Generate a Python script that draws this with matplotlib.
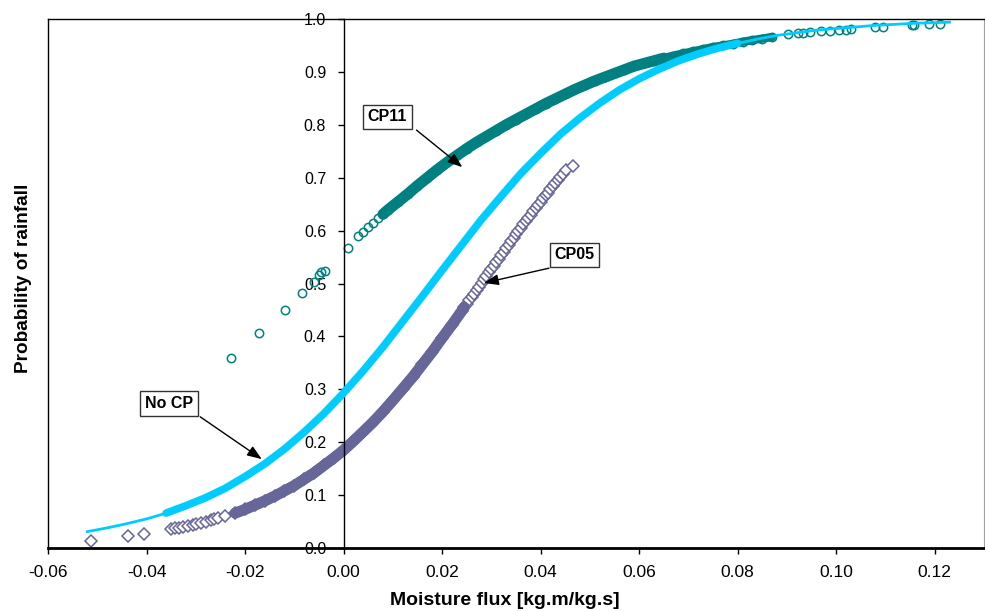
"""Probability of rainfall against moisture flux: CP11, CP05 and the no-CP case.

Each series is a scatter of fitted probabilities; where the points sit very
close together they are backed by a thick line of the same colour so the
band reads as solid, like the original spreadsheet chart.
"""
import matplotlib

matplotlib.use("Agg")
import matplotlib.pyplot as plt  # noqa: E402
import numpy as np  # noqa: E402

plt.rcParams["font.family"] = ["Liberation Sans", "DejaVu Sans"]

TEAL = "#008080"
CYAN = "#00CCFF"
PURPLE = "#666699"

# --- data ------------------------------------------------------------------ #
# CP11 (open circles)
cp11_x = [-0.0229, -0.0172, -0.0119, -0.0085, -0.0061, -0.0049, -0.0045, -0.0038,
          0.0010, 0.003, 0.004, 0.005, 0.006, 0.007, 0.008, 0.009, 0.011, 0.013,
          0.015, 0.017, 0.019, 0.021, 0.023, 0.025, 0.027, 0.029, 0.031, 0.033,
          0.035, 0.037, 0.039, 0.041, 0.043, 0.045, 0.047, 0.049, 0.051, 0.053,
          0.055, 0.057, 0.059, 0.061, 0.063, 0.065, 0.067, 0.069, 0.071, 0.073,
          0.075, 0.077, 0.079, 0.081, 0.083, 0.085, 0.087, 0.0903, 0.0923, 0.0933,
          0.0947, 0.0970, 0.0988, 0.1006, 0.1020, 0.1030, 0.1079, 0.1095, 0.1154,
          0.1158, 0.1188, 0.1210]
cp11_y = [0.359, 0.406, 0.450, 0.482, 0.503, 0.516, 0.522, 0.524,
          0.567, 0.589, 0.597, 0.606, 0.614, 0.623, 0.631, 0.639, 0.654, 0.669,
          0.685, 0.700, 0.715, 0.729, 0.742, 0.755, 0.767, 0.778, 0.789, 0.800,
          0.810, 0.820, 0.830, 0.840, 0.849, 0.858, 0.867, 0.875, 0.883, 0.890,
          0.897, 0.904, 0.911, 0.916, 0.921, 0.926, 0.931, 0.935, 0.939, 0.943,
          0.947, 0.950, 0.953, 0.957, 0.960, 0.963, 0.966, 0.971, 0.973, 0.974,
          0.975, 0.977, 0.978, 0.979, 0.980, 0.981, 0.985, 0.985, 0.988,
          0.988, 0.990, 0.990]

# No CP (dense dashes, reads as a line)
nocp_x = [-0.052, -0.048, -0.044, -0.040, -0.036, -0.032, -0.028, -0.024, -0.020,
          -0.016, -0.012, -0.008, -0.004, 0.000, 0.004, 0.008, 0.012, 0.016,
          0.020, 0.024, 0.028, 0.032, 0.036, 0.040, 0.044, 0.048, 0.052, 0.056,
          0.060, 0.064, 0.068, 0.072, 0.076, 0.080, 0.084, 0.088, 0.092, 0.096,
          0.100, 0.104, 0.108, 0.112, 0.116, 0.120, 0.123]
nocp_y = [0.031, 0.038, 0.046, 0.055, 0.066, 0.080, 0.095, 0.113, 0.135,
          0.159, 0.187, 0.219, 0.254, 0.293, 0.335, 0.380, 0.428, 0.476,
          0.525, 0.573, 0.621, 0.665, 0.708, 0.746, 0.782, 0.813, 0.841, 0.866,
          0.887, 0.905, 0.921, 0.934, 0.945, 0.954, 0.962, 0.969, 0.974, 0.979,
          0.982, 0.985, 0.988, 0.990, 0.992, 0.993, 0.994]

# CP05 (open diamonds)
cp05_x = [-0.0512, -0.0437, -0.0405, -0.0350, -0.0343, -0.0335, -0.0325, -0.0315,
          -0.0305, -0.0300, -0.0290, -0.0280, -0.0270, -0.0262, -0.0255, -0.024,
          -0.022, -0.020, -0.018, -0.016, -0.014, -0.012, -0.010, -0.008, -0.006,
          -0.004, -0.002, 0.000, 0.002, 0.004, 0.006, 0.008, 0.010, 0.012, 0.014,
          0.016, 0.018, 0.020, 0.022, 0.0240, 0.0245, 0.0250, 0.0255, 0.0260,
          0.0265, 0.0270, 0.0275, 0.0280, 0.0285, 0.0290, 0.0295, 0.0300, 0.0305,
          0.0310, 0.0315, 0.0320, 0.0325, 0.0330, 0.0335, 0.0340, 0.0345, 0.0350,
          0.0355, 0.0360, 0.0365, 0.0370, 0.0375, 0.0380, 0.0385, 0.0390, 0.0395,
          0.0400, 0.0405, 0.0410, 0.0415, 0.0420, 0.0425, 0.0430, 0.0435, 0.0440,
          0.0445, 0.0452, 0.0465]
cp05_y = [0.014, 0.023, 0.027, 0.036, 0.037, 0.038, 0.040, 0.042,
          0.044, 0.045, 0.047, 0.049, 0.052, 0.054, 0.056, 0.060,
          0.066, 0.073, 0.081, 0.089, 0.098, 0.108, 0.118, 0.130, 0.142,
          0.156, 0.170, 0.185, 0.202, 0.220, 0.238, 0.258, 0.279, 0.301, 0.323,
          0.347, 0.371, 0.397, 0.422, 0.448, 0.455, 0.461, 0.468, 0.475,
          0.481, 0.488, 0.494, 0.501, 0.508, 0.514, 0.521, 0.527, 0.534,
          0.541, 0.547, 0.554, 0.560, 0.567, 0.573, 0.580, 0.586, 0.593,
          0.599, 0.605, 0.612, 0.618, 0.624, 0.630, 0.637, 0.643, 0.649,
          0.655, 0.661, 0.667, 0.672, 0.678, 0.684, 0.690, 0.695, 0.701,
          0.707, 0.714, 0.722]

x_ticks = [-0.06, -0.04, -0.02, 0.00, 0.02, 0.04, 0.06, 0.08, 0.10, 0.12]
y_ticks = [0.0, 0.1, 0.2, 0.3, 0.4, 0.5, 0.6, 0.7, 0.8, 0.9, 1.0]


def _band(ax, x, y, lo, hi, color, lw, z):
    """Solid backing line where the scatter points crowd into a band."""
    x = np.asarray(x)
    y = np.asarray(y)
    m = (x >= lo) & (x <= hi)
    ax.plot(x[m], y[m], color=color, lw=lw, solid_capstyle="round", zorder=z)


def _label(ax, text, xy_box, tail, head):
    ax.text(*xy_box, text, ha="center", va="center", fontsize=11.5,
            fontweight="bold", zorder=6,
            bbox=dict(boxstyle="square,pad=0.3", fc="white", ec="#333333", lw=1))
    ax.annotate("", xy=head, xytext=tail, zorder=6,
                arrowprops=dict(arrowstyle="-|>,head_length=0.8,head_width=0.3",
                                color="black", lw=1, mutation_scale=11,
                                shrinkA=0, shrinkB=0))


def main():
    fig = plt.figure(figsize=(9.85, 6.11), dpi=100)
    ax = fig.add_axes([0.0487, 0.1031, 0.9503, 0.8658])
    ax.set_xlim(-0.06, 0.13)
    ax.set_ylim(0, 1.0)

    # CP11
    ax.plot(cp11_x, cp11_y, ls="none", marker="o", ms=6, mfc="none", mec=TEAL,
            mew=1.1, zorder=2)
    _band(ax, cp11_x, cp11_y, 0.008, 0.066, TEAL, 8, 2)
    _band(ax, cp11_x, cp11_y, 0.065, 0.087, TEAL, 6, 2)
    # CP05: solid band low down, stacked outlines higher up
    ax.plot(cp05_x, cp05_y, ls="none", marker="D", ms=6.5, mfc="white",
            mec=PURPLE, mew=1.1, zorder=2)
    _band(ax, cp05_x, cp05_y, -0.0235, 0.0245, PURPLE, 8, 2.5)
    # No CP (on top)
    ax.plot(nocp_x, nocp_y, color=CYAN, lw=2, zorder=3)
    _band(ax, nocp_x, nocp_y, -0.036, 0.080, CYAN, 5.5, 3)

    # axes styling: y axis sits at x = 0, plot-area frame around it
    ax.spines["left"].set_position(("data", 0))
    ax.spines["left"].set_linewidth(1)
    ax.spines["bottom"].set_linewidth(2)
    ax.spines["top"].set_linewidth(1)
    ax.spines["right"].set_color("#a0a0a0")
    ax.plot([0, 0], [0, 1], transform=ax.transAxes, color="black", lw=1,
            clip_on=False, zorder=5)

    ax.set_xticks(x_ticks)
    ax.set_xticklabels([f"{v:.2f}" for v in x_ticks])
    ax.set_yticks(y_ticks)
    ax.set_yticklabels([f"{v:.1f}" for v in y_ticks])
    ax.tick_params(axis="x", direction="out", length=4.5, width=1, pad=8,
                   labelsize=12.5)
    ax.tick_params(axis="y", direction="out", length=4.5, width=1, pad=8,
                   labelsize=11.5)

    fig.text(0.0234, 0.545, "Probability of rainfall", rotation=90, ha="center",
             va="center", fontsize=13.7, fontweight="bold")
    fig.text(0.512, 0.018, "Moisture flux [kg.m/kg.s]", ha="center",
             va="center", fontsize=14, fontweight="bold")

    _label(ax, "CP11", (0.0089, 0.815), (0.0148, 0.790), (0.0241, 0.720))
    _label(ax, "CP05", (0.0469, 0.554), (0.0417, 0.529), (0.0285, 0.501))
    _label(ax, "No CP", (-0.0355, 0.273), (-0.0291, 0.248), (-0.0166, 0.168))

    fig.savefig("out.png", dpi=100)
    plt.close(fig)


if __name__ == "__main__":
    main()
